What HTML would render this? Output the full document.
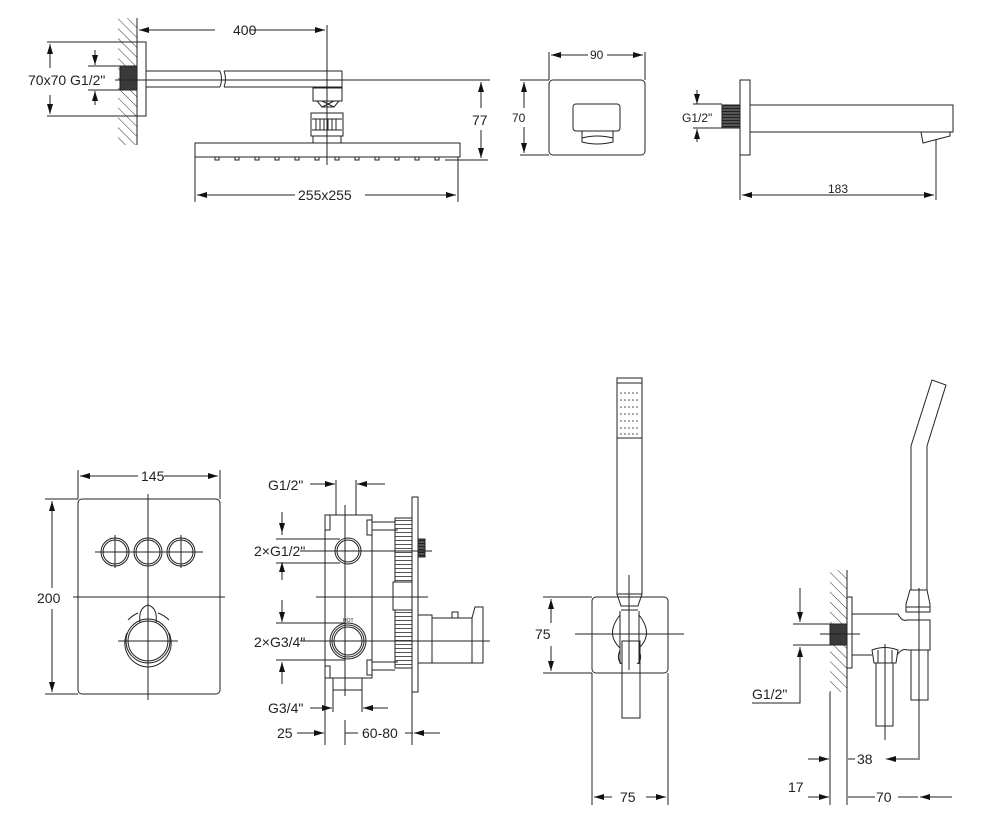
<!DOCTYPE html>
<html><head><meta charset="utf-8"><style>
html,body{margin:0;padding:0;background:#fff}
svg{display:block}
text{font-family:"Liberation Sans","DejaVu Sans",sans-serif;fill:#222}
</style></head><body>
<svg width="1000" height="821" viewBox="0 0 1000 821" xmlns="http://www.w3.org/2000/svg">
<defs>
<pattern id="h" width="7" height="7" patternUnits="userSpaceOnUse" patternTransform="rotate(-45)">
<line x1="0" y1="0" x2="0" y2="7" stroke="#333" stroke-width="1"/></pattern>
<marker id="a" viewBox="0 0 10 6" refX="10" refY="3" markerWidth="10" markerHeight="6" orient="auto-start-reverse" markerUnits="userSpaceOnUse">
<path d="M0,0 L10,3 L0,6z" fill="#111"/></marker>
<pattern id="th" width="2" height="3" patternUnits="userSpaceOnUse"><rect width="2" height="3" fill="#555"/><rect width="2" height="1" fill="#222"/></pattern>
<pattern id="rib" width="4" height="4" patternUnits="userSpaceOnUse"><line x1="0" y1="0.5" x2="4" y2="0.5" stroke="#555" stroke-width="1"/></pattern>
</defs>
<g fill="none" stroke="#222" stroke-width="1">

<!-- ===== Top-left: rain shower ===== -->
<rect x="118" y="18" width="19" height="127" fill="url(#h)" stroke="none"/>
<line x1="137" y1="18" x2="137" y2="145"/>
<rect x="137" y="42" width="9" height="74"/>
<rect x="120" y="66" width="17" height="24" fill="#3a3a3a"/>
<path d="M146,71 H220 M224,71 H342 V87 H224 M220,87 H146"/>
<path d="M220,71 q3,8 0,16 M224,71 q3,8 0,16"/>
<line x1="115" y1="80" x2="490" y2="80"/>
<rect x="313" y="88" width="29" height="13"/>
<path d="M317,101 H339 L334,107 H322 Z M322,101 L334,107 M334,101 L322,107"/>
<rect x="311" y="113" width="32" height="23"/>
<path d="M312,119 H342 M312,130 H342 M316,119 V130 M320,119 V130 M324,119 V130 M328,119 V130 M332,119 V130 M336,119 V130"/>
<rect x="313" y="136" width="28" height="7"/>
<rect x="195" y="143" width="265" height="14"/>
<g fill="#fff">
<rect x="215" y="157" width="4" height="3"/><rect x="235" y="157" width="4" height="3"/><rect x="255" y="157" width="4" height="3"/><rect x="275" y="157" width="4" height="3"/><rect x="295" y="157" width="4" height="3"/><rect x="315" y="157" width="4" height="3"/><rect x="335" y="157" width="4" height="3"/><rect x="355" y="157" width="4" height="3"/><rect x="375" y="157" width="4" height="3"/><rect x="395" y="157" width="4" height="3"/><rect x="415" y="157" width="4" height="3"/><rect x="435" y="157" width="4" height="3"/>
</g>
<line x1="327" y1="25" x2="327" y2="165"/>
<line x1="139" y1="30" x2="215" y2="30" marker-start="url(#a)"/>
<line x1="250" y1="30" x2="325" y2="30" marker-end="url(#a)"/>
<path d="M47,42 H146 M47,116 H146"/>
<line x1="50" y1="44" x2="50" y2="68" marker-start="url(#a)"/>
<line x1="50" y1="95" x2="50" y2="114" marker-end="url(#a)"/>
<path d="M88,66 H120 M88,90 H120"/>
<line x1="95" y1="50" x2="95" y2="65" marker-end="url(#a)"/>
<line x1="95" y1="105" x2="95" y2="91" marker-end="url(#a)"/>
<path d="M445,160 H488"/>
<line x1="481" y1="82" x2="481" y2="108" marker-start="url(#a)"/>
<line x1="481" y1="130" x2="481" y2="158" marker-end="url(#a)"/>
<path d="M195,157 V202 M458,157 V202"/>
<line x1="197" y1="195" x2="295" y2="195" marker-start="url(#a)"/>
<line x1="365" y1="195" x2="456" y2="195" marker-end="url(#a)"/>

<!-- ===== Top-middle: spout front ===== -->
<rect x="549" y="80" width="96" height="75" rx="4"/>
<rect x="573" y="104" width="47" height="27" rx="3"/>
<path d="M582,131 V142 Q597,146 613,142 V131 M582,138 Q597,134 613,138"/>
<path d="M549,52 V80 M645,52 V80 M520,80 H549 M520,155 H549"/>
<line x1="551" y1="55" x2="588" y2="55" marker-start="url(#a)"/>
<line x1="607" y1="55" x2="643" y2="55" marker-end="url(#a)"/>
<line x1="524" y1="82" x2="524" y2="108" marker-start="url(#a)"/>
<line x1="524" y1="127" x2="524" y2="153" marker-end="url(#a)"/>

<!-- ===== Top-right: spout side ===== -->
<rect x="740" y="80" width="10" height="75"/>
<rect x="722" y="105" width="18" height="23" fill="url(#th)" stroke="#222"/>
<path d="M750,105 H953 V132 H750"/>
<path d="M921,132 L923,143 L950,136 L950,132"/>
<path d="M693,104 H722 M693,128 H722"/>
<line x1="697" y1="90" x2="697" y2="104" marker-end="url(#a)"/>
<line x1="697" y1="142" x2="697" y2="129" marker-end="url(#a)"/>
<path d="M740,155 V200 M936,140 V200"/>
<line x1="742" y1="195" x2="934" y2="195" marker-start="url(#a)" marker-end="url(#a)"/>

<!-- ===== Bottom-left: panel ===== -->
<rect x="78" y="499" width="142" height="195" rx="4"/>
<path d="M78,470 V499 M220,470 V499 M45,499 H78 M45,694 H78"/>
<line x1="80" y1="476" x2="138" y2="476" marker-start="url(#a)"/>
<line x1="164" y1="476" x2="218" y2="476" marker-end="url(#a)"/>
<line x1="52" y1="501" x2="52" y2="588" marker-start="url(#a)"/>
<line x1="52" y1="609" x2="52" y2="692" marker-end="url(#a)"/>
<path d="M148,494 V700 M73,597 H225"/>
<circle cx="115" cy="552" r="14"/><circle cx="115" cy="552" r="12"/>
<circle cx="148" cy="552" r="14"/><circle cx="148" cy="552" r="12"/>
<circle cx="181" cy="552" r="14"/><circle cx="181" cy="552" r="12"/>
<path d="M95,552 H203 M115,535 V568 M181,535 V568"/>
<circle cx="148" cy="641" r="20"/><circle cx="148" cy="641" r="22"/>
<path d="M127,633 A24,24 0 0 0 148,667 A24,24 0 0 0 169,633"/>
<path d="M140,623 Q138,608 148,605 Q158,608 156,623"/>
<path d="M128,620 Q133,615 138,613 M158,613 Q164,615 169,620"/>
<path d="M118,641 H178"/>

<!-- ===== Bottom: valve body ===== -->
<rect x="325" y="515" width="47" height="163"/>
<path d="M325,515 V530 H330 V515 M325,666 H330 V678"/>
<path d="M372,522 H395 M372,530 H398 M372,670 H395 M372,662 H398 M367,520 H372 V535 H367 Z M367,660 H372 V675 H367 Z"/>
<rect x="395" y="518" width="17" height="64" fill="url(#rib)" stroke="#222"/>
<rect x="395" y="610" width="17" height="58" fill="url(#rib)" stroke="#222"/>
<rect x="393" y="582" width="19" height="28" fill="#fff"/>
<rect x="412" y="497" width="6" height="195"/>
<rect x="418" y="539" width="7" height="18" fill="url(#th)"/>
<path d="M418,615 H432 V663 H418 M432,618 H472 V663 H432 M472,618 L475,607 H483 V663 H472 M452,618 V612 H458 V618"/>
<circle cx="348" cy="551" r="13"/><circle cx="348" cy="551" r="11"/>
<circle cx="348" cy="641" r="18"/><circle cx="348" cy="641" r="16"/><circle cx="348" cy="641" r="14"/>
<text x="343" y="622" font-size="5" stroke="none">HOT</text>
<rect x="333" y="678" width="29" height="12"/>
<path d="M345,505 V696 M300,551 H432 M300,641 H490 M316,597 H428"/>
<path d="M336,480 V515 M356,480 V515 M282,520 V535 M282,564 V580"/>
<line x1="282" y1="512" x2="282" y2="533" marker-end="url(#a)"/>
<line x1="282" y1="578" x2="282" y2="562" marker-end="url(#a)"/>
<path d="M276,539 H340 M276,563 H340 M276,623 H345 M276,660 H345"/>
<line x1="282" y1="600" x2="282" y2="622" marker-end="url(#a)"/>
<line x1="282" y1="684" x2="282" y2="662" marker-end="url(#a)"/>
<line x1="310" y1="484" x2="335" y2="484" marker-end="url(#a)"/>
<line x1="385" y1="484" x2="357" y2="484" marker-end="url(#a)"/>
<path d="M333,690 V712 M362,690 V712 M325,678 V745 M345,720 V745 M412,692 V745"/>
<line x1="310" y1="708" x2="332" y2="708" marker-end="url(#a)"/>
<line x1="388" y1="708" x2="363" y2="708" marker-end="url(#a)"/>
<line x1="297" y1="733" x2="324" y2="733" marker-end="url(#a)"/>
<line x1="345" y1="733" x2="358" y2="733"/>
<line x1="405" y1="733" x2="413" y2="733"/>
<line x1="440" y1="733" x2="414" y2="733" marker-end="url(#a)"/>

<!-- ===== Hand shower front ===== -->
<rect x="617" y="378" width="25" height="5"/>
<rect x="617" y="383" width="25" height="55"/>
<path d="M617,438 V594 M642,438 V594"/>
<path d="M617,594 H642 L638,606 H621 Z M621,610 H638"/>
<rect x="592" y="597" width="76" height="76" rx="4"/>
<path d="M620,611 V664 M639,611 V664"/>
<path d="M620,615 Q605,634 620,648 M639,615 Q654,634 639,648"/>
<path d="M620,650 Q616,660 622,664 M639,650 Q643,660 637,664"/>
<path d="M622,641 H640 V718 H622 Z"/>
<path d="M629,575 V670 M575,634 H684"/>
<g fill="#444" stroke="none">
<circle cx="621" cy="393" r="0.8"/><circle cx="625" cy="393" r="0.8"/><circle cx="629" cy="393" r="0.8"/><circle cx="633" cy="393" r="0.8"/><circle cx="637" cy="393" r="0.8"/>
<circle cx="621" cy="400" r="0.8"/><circle cx="625" cy="400" r="0.8"/><circle cx="629" cy="400" r="0.8"/><circle cx="633" cy="400" r="0.8"/><circle cx="637" cy="400" r="0.8"/>
<circle cx="621" cy="407" r="0.8"/><circle cx="625" cy="407" r="0.8"/><circle cx="629" cy="407" r="0.8"/><circle cx="633" cy="407" r="0.8"/><circle cx="637" cy="407" r="0.8"/>
<circle cx="621" cy="414" r="0.8"/><circle cx="625" cy="414" r="0.8"/><circle cx="629" cy="414" r="0.8"/><circle cx="633" cy="414" r="0.8"/><circle cx="637" cy="414" r="0.8"/>
<circle cx="621" cy="421" r="0.8"/><circle cx="625" cy="421" r="0.8"/><circle cx="629" cy="421" r="0.8"/><circle cx="633" cy="421" r="0.8"/><circle cx="637" cy="421" r="0.8"/>
<circle cx="621" cy="428" r="0.8"/><circle cx="625" cy="428" r="0.8"/><circle cx="629" cy="428" r="0.8"/><circle cx="633" cy="428" r="0.8"/><circle cx="637" cy="428" r="0.8"/>
<circle cx="621" cy="434" r="0.8"/><circle cx="625" cy="434" r="0.8"/><circle cx="629" cy="434" r="0.8"/><circle cx="633" cy="434" r="0.8"/><circle cx="637" cy="434" r="0.8"/>
</g>
<path d="M543,597 H592 M543,673 H592 M592,673 V805 M668,673 V805"/>
<line x1="551" y1="599" x2="551" y2="623" marker-start="url(#a)"/>
<line x1="551" y1="646" x2="551" y2="671" marker-end="url(#a)"/>
<line x1="594" y1="797" x2="612" y2="797" marker-start="url(#a)"/>
<line x1="646" y1="797" x2="666" y2="797" marker-end="url(#a)"/>

<!-- ===== Bottom-right: wall holder ===== -->
<rect x="830" y="570" width="17" height="122" fill="url(#h)" stroke="none"/>
<line x1="847" y1="570" x2="847" y2="692"/>
<rect x="847" y="597" width="5" height="71"/>
<rect x="830" y="624" width="17" height="21" fill="#3a3a3a"/>
<path d="M820,634 H860"/>
<path d="M852,614 H898 Q902,622 907,620 H930 V650 H907 Q902,648 897,655 M852,655 H872"/>
<path d="M872,650 Q885,645 898,650 L896,663 H874 Z M878,650 V663 M892,650 V663"/>
<rect x="876" y="663" width="17" height="63"/>
<rect x="911" y="650" width="17" height="50"/>
<path d="M910,590 H927 L930,604 V612 H906 V604 Z M906,607 H930"/>
<path d="M911,590 V446 M927,590 V446"/>
<path d="M911,446 L932,380 L946,385 L927,446"/>
<path d="M885,644 V740 M919,588 V760 M830,692 V805 M847,692 V805"/>
<path d="M793,624 H830 M793,645 H830"/>
<line x1="800" y1="588" x2="800" y2="622" marker-end="url(#a)"/>
<line x1="800" y1="684" x2="800" y2="647" marker-end="url(#a)"/>
<path d="M800,684 V703 H752"/>
<line x1="808" y1="759" x2="829" y2="759" marker-end="url(#a)"/>
<line x1="848" y1="759" x2="855" y2="759"/>
<line x1="918" y1="759" x2="886" y2="759" marker-end="url(#a)"/>
<line x1="808" y1="797" x2="829" y2="797" marker-end="url(#a)"/>
<line x1="848" y1="797" x2="875" y2="797"/>
<line x1="898" y1="797" x2="918" y2="797"/>
<line x1="952" y1="797" x2="920" y2="797" marker-end="url(#a)"/>
</g>

<g stroke="none" font-size="14">
<text x="233" y="35">400</text>
<text x="28" y="85">70x70 G1/2"</text>
<text x="472" y="125">77</text>
<text x="298" y="200">255x255</text>
<text x="590" y="59" font-size="12">90</text>
<text x="512" y="122" font-size="12">70</text>
<text x="682" y="122" font-size="12">G1/2"</text>
<text x="828" y="193" font-size="12">183</text>
<text x="141" y="481">145</text>
<text x="37" y="603">200</text>
<text x="268" y="490">G1/2"</text>
<text x="254" y="556">2×G1/2"</text>
<text x="254" y="647">2×G3/4"</text>
<text x="268" y="713">G3/4"</text>
<text x="277" y="738">25</text>
<text x="362" y="738">60-80</text>
<text x="535" y="639">75</text>
<text x="620" y="802">75</text>
<text x="752" y="699">G1/2"</text>
<text x="857" y="764">38</text>
<text x="788" y="792">17</text>
<text x="876" y="802">70</text>
</g>
</svg>
</body></html>
